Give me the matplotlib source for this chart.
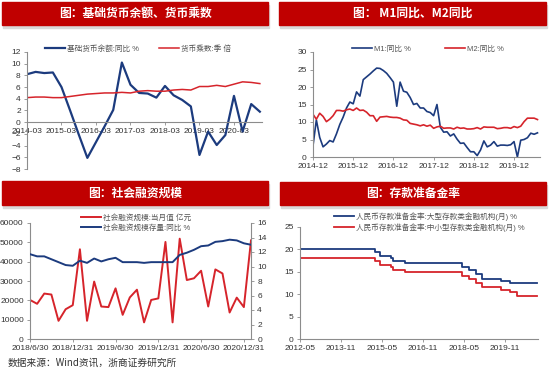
import matplotlib
matplotlib.use('Agg')
import matplotlib.pyplot as plt
from matplotlib.patches import Rectangle

plt.rcParams['font.family'] = ['Liberation Sans', 'Noto Sans CJK SC', 'DejaVu Sans']

BLUE = '#1C3B7E'
RED = '#D6242B'
TITLE_RED = '#C00000'
AXIS = '#8C8C8C'
TXT = '#333333'

# === panel 1: base money yoy (quarterly) and money multiplier ===
q_labels = ['2014-03', '2015-03', '2016-03', '2017-03', '2018-03', '2019-03', '2020-03']
base_money_yoy = [8.2, 8.6, 8.4, 8.5, 6.0, 2.0, -2.1, -6.1, -3.4, -0.7, 2.1, 10.2,
                  6.4, 5.0, 4.9, 4.2, 6.2, 4.6, 3.8, 2.7, -5.6, -1.6, -3.9, -2.2,
                  4.5, -1.6, 3.1, 1.8]
money_mult = [4.2, 4.3, 4.3, 4.2, 4.2, 4.4, 4.6, 4.8, 4.9, 5.0, 5.0, 5.1,
              5.0, 5.3, 5.4, 5.3, 5.3, 5.5, 5.6, 5.5, 6.1, 6.1, 6.3, 6.1,
              6.5, 6.9, 6.8, 6.6]

# === panel 2: M1, M2 yoy, 2014-12 .. 2020-07 ===
m_labels = ['2014-12', '2015-12', '2016-12', '2017-12', '2018-12', '2019-12']
m1_yoy = [3.2,
          10.6, 5.6, 2.9, 3.7, 4.7, 4.3, 6.6, 9.3, 11.4, 14.0, 15.7, 15.2,
          18.6, 17.4, 22.1, 22.9, 23.7, 24.6, 25.4, 25.3, 24.7, 23.9, 22.7, 21.4,
          14.5, 21.4, 18.8, 18.5, 17.0, 15.0, 15.3, 14.0, 14.0, 13.0, 12.7, 11.8,
          15.0, 8.5, 7.1, 7.2, 6.0, 6.6, 5.1, 3.9, 4.0, 2.7, 1.5, 1.5,
          0.4, 2.0, 4.6, 2.9, 3.4, 4.4, 3.1, 3.4, 3.4, 3.3, 3.5, 4.4,
          0.0, 4.8, 5.0, 5.5, 6.8, 6.5, 6.9]
m2_yoy = [12.2,
          10.8, 12.5, 11.6, 10.1, 10.8, 11.8, 13.3, 13.3, 13.1, 13.5, 13.7, 13.3,
          14.0, 13.3, 13.4, 12.8, 11.8, 11.8, 10.2, 11.4, 11.5, 11.6, 11.4, 11.3,
          11.3, 11.1, 10.6, 10.5, 9.6, 9.4, 9.2, 8.9, 9.2, 8.8, 9.1, 8.2,
          8.6, 8.8, 8.2, 8.3, 8.3, 8.0, 8.5, 8.2, 8.3, 8.0, 8.0, 8.1,
          8.4, 8.0, 8.6, 8.5, 8.5, 8.5, 8.1, 8.2, 8.4, 8.4, 8.2, 8.7,
          8.4, 8.8, 10.1, 11.1, 11.1, 11.1, 10.7]

# === panel 3: total social financing, 2018-06 .. 2021-01 ===
tsf_labels = ['2018/6/30', '2018/12/31', '2019/6/30', '2019/12/31', '2020/6/30', '2020/12/31']
tsf_flow = [20200, 18200, 23500, 23000, 9400, 15400, 17500,
            46400, 9400, 29700, 16800, 16500, 26200, 12500, 21500, 25500, 8600, 20200, 21000,
            50200, 8600, 51900, 30500, 31400, 35300, 16800, 36000, 33900, 13700, 21400, 16500,
            51000]
tsf_stock_yoy = [11.7, 11.4, 11.4, 11.0, 10.6, 10.2, 10.1,
                 10.8, 10.5, 11.1, 10.7, 11.0, 11.2, 10.6, 10.6, 10.6, 10.5, 10.6, 10.6,
                 10.6, 10.6, 11.6, 11.9, 12.3, 12.8, 12.9, 13.4, 13.5, 13.7, 13.6, 13.2,
                 13.0]

# === panel 4: RRR, months since 2012-05 where the level changes ===
rrr_labels = ['2012-05', '2013-11', '2015-05', '2016-11', '2018-05', '2019-11']
rrr_large_m = [0, 33, 35, 40, 41, 46, 71, 74, 77, 80, 88, 92, 104]
rrr_large = [20.0, 19.5, 18.5, 18.0, 17.5, 17.0, 16.0, 15.5, 14.5, 13.5, 13.0, 12.5, 12.5]
rrr_small_m = [0, 33, 35, 40, 41, 46, 71, 74, 77, 80, 88, 92, 95, 104]
rrr_small = [18.0, 17.5, 16.5, 16.0, 15.5, 15.0, 14.0, 13.5, 12.5, 11.5, 11.0, 10.5, 9.5, 9.5]

W, H = 550, 370
fig = plt.figure(figsize=(5.5, 3.7), dpi=100)


def px_axes(x0, y0, x1, y1):
    return fig.add_axes([x0 / W, 1 - y1 / H, (x1 - x0) / W, (y1 - y0) / H])


def title_bar(x0, y0, x1, y1, text):
    fig.patches.append(Rectangle((x0 / W + 0.002, 1 - y1 / H - 0.007), (x1 - x0) / W, (y1 - y0) / H,
                                 transform=fig.transFigure, color='#D9D9D9', zorder=0))
    fig.patches.append(Rectangle((x0 / W, 1 - y1 / H), (x1 - x0) / W, (y1 - y0) / H,
                                 transform=fig.transFigure, color=TITLE_RED, zorder=1))
    fig.text((x0 + x1) / 2 / W, 1 - (y0 + y1) / 2 / H, text, color='white', fontsize=8.5,
             fontweight='bold', ha='center', va='center', family=['Noto Sans CJK SC'])


def style(ax):
    for s in ['top', 'right']:
        ax.spines[s].set_visible(False)
    for s in ['left', 'bottom']:
        ax.spines[s].set_color(AXIS)
        ax.spines[s].set_linewidth(0.8)
    ax.tick_params(labelsize=6, colors=AXIS, labelcolor=TXT, length=2.5, width=0.6, pad=2)


def legend(ax, cx, cy, ncol, loc, colsp=2.0):
    lg = ax.legend(loc=loc, bbox_to_anchor=(cx / W, 1 - cy / H), bbox_transform=fig.transFigure,
                   ncol=ncol, frameon=False, fontsize=5.5, handlelength=2.6, handletextpad=0.3,
                   columnspacing=colsp, borderpad=0, labelspacing=0.35)
    for t in lg.get_texts():
        t.set_color('#555555')


# panel 1
title_bar(2, 2, 268, 25, '图：基础货币余额、货币乘数')
ax1 = px_axes(27, 52, 262, 169)
x1 = list(range(len(base_money_yoy)))
ax1.plot(x1, base_money_yoy, color=BLUE, lw=1.6, label='基础货币余额:同比 %')
ax1.plot(x1, money_mult, color=RED, lw=1.1, label='货币乘数:季 倍')
ax1.set_xlim(0, 27.25)
ax1.set_ylim(-8, 12)
ax1.set_yticks(range(-8, 13, 2))
ax1.set_xticks(range(0, 28, 4))
ax1.set_xticklabels(q_labels)
style(ax1)
ax1.spines['bottom'].set_position(('data', 0))
legend(ax1, 138, 49, 2, 'center', 2.6)

# panel 2
title_bar(279, 2, 546, 25, '图： M1同比、M2同比')
ax2 = px_axes(313, 52, 540, 157)
x2 = list(range(len(m1_yoy)))
ax2.plot(x2, m1_yoy, color=BLUE, lw=1.2, label='M1:同比 %')
ax2.plot(x2, m2_yoy, color=RED, lw=1.2, label='M2:同比 %')
ax2.set_xlim(0, 67.75)
ax2.set_ylim(0, 30)
ax2.set_yticks(range(0, 31, 5))
ax2.set_xticks(range(0, 68, 12))
ax2.set_xticklabels(m_labels)
style(ax2)
legend(ax2, 428, 49, 2, 'center', 4.5)

# panel 3
title_bar(2, 181, 268, 205, '图：社会融资规模')
ax3 = px_axes(30, 223, 251, 339)
x3 = list(range(len(tsf_flow)))
ax3.plot(x3, tsf_flow, color=RED, lw=1.4, label='社会融资规模:当月值 亿元')
ax3r = ax3.twinx()
ax3r.plot(x3, tsf_stock_yoy, color=BLUE, lw=1.4, label='社会融资规模存量:同比 %')
ax3.set_xlim(0, 31)
ax3.set_ylim(0, 60000)
ax3.set_yticks(range(0, 60001, 10000))
ax3r.set_ylim(0, 16)
ax3r.set_yticks(range(0, 17, 2))
ax3.set_xticks(range(0, 31, 6))
ax3.set_xticklabels(tsf_labels)
style(ax3)
style(ax3r)
ax3r.spines['left'].set_visible(False)
ax3r.spines['bottom'].set_visible(False)
ax3r.spines['right'].set_visible(True)
ax3r.spines['right'].set_color(AXIS)
ax3r.spines['right'].set_linewidth(0.8)
h1, l1 = ax3.get_legend_handles_labels()
h2, l2 = ax3r.get_legend_handles_labels()
lg3 = ax3r.legend(h1 + h2, l1 + l2, loc='center left', bbox_to_anchor=(77 / W, 1 - 223 / H),
                  bbox_transform=fig.transFigure, frameon=False, fontsize=5.5, handlelength=2.6,
                  handletextpad=0.3, borderpad=0, labelspacing=0.35)
for t in lg3.get_texts():
    t.set_color('#555555')

fig.text(8 / W, 1 - 363 / H, '数据来源：Wind资讯，浙商证券研究所', fontsize=7, color=TXT,
         ha='left', va='center', family=['Noto Sans CJK SC'])

# panel 4
title_bar(280, 182, 546, 205, '图：存款准备金率')
ax4 = px_axes(300, 227, 538, 339)
ax4.plot(rrr_large_m, rrr_large, color=BLUE, lw=1.3, drawstyle='steps-post',
         label='人民币存款准备金率:大型存款类金融机构(月) %')
ax4.plot(rrr_small_m, rrr_small, color=RED, lw=1.3, drawstyle='steps-post',
         label='人民币存款准备金率:中小型存款类金融机构(月) %')
ax4.set_xlim(0, 104.4)
ax4.set_ylim(0, 25)
ax4.set_yticks(range(0, 26, 5))
ax4.set_xticks(range(0, 104, 18))
ax4.set_xticklabels(rrr_labels)
style(ax4)
legend(ax4, 330, 222, 1, 'center left')

fig.savefig('out.png', dpi=100)
